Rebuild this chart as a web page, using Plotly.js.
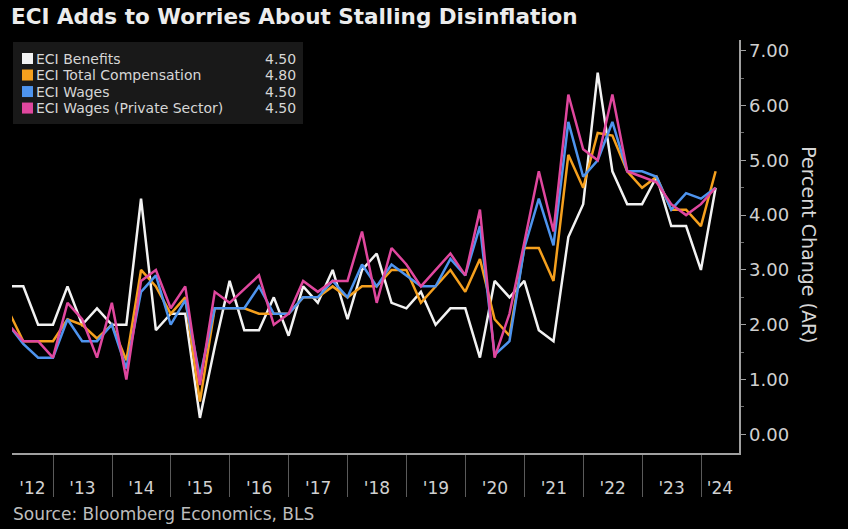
<!DOCTYPE html>
<html>
<head>
<meta charset="utf-8">
<script src="https://cdn.plot.ly/plotly-3.0.1.min.js"></script>
<style>
  html, body { margin: 0; padding: 0; background: #000; }
  #chart { width: 848px; height: 529px; }
</style>
</head>
<body>
<div id="chart"></div>
<script>
// ---- Data (quarterly, annualized % change) ----
const quarters = [
  '2012-03-31','2012-06-30','2012-09-30','2012-12-31',
  '2013-03-31','2013-06-30','2013-09-30','2013-12-31',
  '2014-03-31','2014-06-30','2014-09-30','2014-12-31',
  '2015-03-31','2015-06-30','2015-09-30','2015-12-31',
  '2016-03-31','2016-06-30','2016-09-30','2016-12-31',
  '2017-03-31','2017-06-30','2017-09-30','2017-12-31',
  '2018-03-31','2018-06-30','2018-09-30','2018-12-31',
  '2019-03-31','2019-06-30','2019-09-30','2019-12-31',
  '2020-03-31','2020-06-30','2020-09-30','2020-12-31',
  '2021-03-31','2021-06-30','2021-09-30','2021-12-31',
  '2022-03-31','2022-06-30','2022-09-30','2022-12-31',
  '2023-03-31','2023-06-30','2023-09-30','2023-12-31',
  '2024-03-31'
];

const eciBenefits = [2.7, 2.7, 2.0, 2.0, 2.7, 2.0, 2.3, 2.0, 2.0, 4.3, 1.9, 2.2, 2.2, 0.3, 1.6, 2.8, 1.9, 1.9, 2.5, 1.8, 2.7, 2.4, 3.0, 2.1, 3.0, 3.3, 2.4, 2.3, 2.6, 2.0, 2.3, 2.3, 1.4, 2.8, 2.5, 2.8, 1.9, 1.7, 3.6, 4.2, 6.6, 4.8, 4.2, 4.2, 4.7, 3.8, 3.8, 3.0, 4.5];
const eciTotalComp = [2.25, 1.7, 1.7, 1.7, 2.1, 2.0, 1.75, 2.0, 1.35, 3.0, 2.7, 2.2, 2.5, 0.6, 2.3, 2.3, 2.3, 2.2, 2.2, 2.2, 2.5, 2.5, 2.7, 2.5, 2.7, 2.7, 3.0, 3.0, 2.4, 2.7, 3.0, 2.6, 3.2, 2.1, 1.8, 3.4, 3.4, 2.8, 5.1, 4.5, 5.5, 5.45, 4.8, 4.5, 4.7, 4.1, 4.1, 3.8, 4.8];
const eciWages = [2.0, 1.65, 1.4, 1.4, 2.1, 1.7, 1.7, 2.0, 1.2, 2.6, 2.9, 2.0, 2.45, 1.05, 2.3, 2.3, 2.3, 2.7, 2.2, 2.2, 2.5, 2.5, 2.8, 2.5, 3.1, 2.7, 3.1, 2.9, 2.7, 2.7, 3.2, 2.9, 3.8, 1.45, 1.7, 3.4, 4.3, 3.45, 5.7, 4.7, 5.0, 5.7, 4.8, 4.8, 4.7, 4.1, 4.4, 4.3, 4.5];
const eciWagesPrivate = [2.0, 1.7, 1.7, 1.4, 2.4, 2.1, 1.4, 2.4, 1.0, 2.8, 3.0, 2.3, 2.7, 0.9, 2.6, 2.4, 2.65, 2.9, 2.0, 2.2, 2.8, 2.6, 2.8, 2.8, 3.7, 2.4, 3.4, 3.1, 2.7, 3.0, 3.3, 2.9, 4.1, 1.4, 2.2, 3.5, 4.8, 3.7, 6.2, 5.2, 5.0, 6.2, 4.8, 4.7, 4.6, 4.2, 4.0, 4.2, 4.5];

const seriesNames = ['ECI Benefits', 'ECI Total Compensation', 'ECI Wages', 'ECI Wages (Private Sector)'];
const seriesColors = ['#f2f2f2', '#f5a01e', '#4e94ee', '#e0479e'];
const seriesValues = [eciBenefits, eciTotalComp, eciWages, eciWagesPrivate];

const yearLabels = ["'12","'13","'14","'15","'16","'17","'18","'19","'20","'21","'22","'23","'24"];
const years = [2012,2013,2014,2015,2016,2017,2018,2019,2020,2021,2022,2023,2024];

// ---- Layout geometry ----
const W = 848, H = 529;
const M = { l: 12, r: 109, t: 40, b: 76.4 };
const plotW = W - M.l - M.r, plotH = H - M.t - M.b;
const px2x = px => (px - M.l) / plotW;
const px2y = py => (H - M.b - py) / plotH;

const xStart = '2012-04-21', xEnd = '2024-08-23';
const ms = s => new Date(s + 'T00:00:00Z').getTime();
const iso = t => new Date(t).toISOString().slice(0, 10);

// label positions: centre of the visible part of each year
const labelVals = years.map(y => {
  const a = Math.max(ms(y + '-01-01'), ms(xStart));
  const b = Math.min(ms((y + 1) + '-01-01'), ms(xEnd));
  return iso((a + b) / 2);
});
const boundaryVals = years.slice(1).map(y => y + '-01-01');

const font = 'DejaVu Sans, Verdana, sans-serif';

const traces = seriesValues.map((vals, i) => ({
  type: 'scatter', mode: 'lines',
  x: quarters, y: vals, name: seriesNames[i],
  line: { color: seriesColors[i], width: 2.5 },
  hoverinfo: 'skip', showlegend: false, cliponaxis: true
}));

// custom legend (box + swatches + names + latest values)
const shapes = [{
  type: 'rect', xref: 'paper', yref: 'paper',
  x0: px2x(13), x1: px2x(303), y0: px2y(124), y1: px2y(42),
  fillcolor: '#191919', line: { width: 0 }, layer: 'above'
}];
const annotations = [];
const rowY = [58.5, 75, 91.5, 108];
const legendFont = { family: font, size: 14, color: '#d6d6d6' };
seriesNames.forEach((n, i) => {
  shapes.push({
    type: 'rect', xref: 'paper', yref: 'paper',
    x0: px2x(22), x1: px2x(33), y0: px2y(rowY[i] + 5.5), y1: px2y(rowY[i] - 5.5),
    fillcolor: seriesColors[i], line: { width: 0 }, layer: 'above'
  });
  annotations.push({
    xref: 'paper', yref: 'paper', x: px2x(35), y: px2y(rowY[i]),
    xanchor: 'left', yanchor: 'middle', showarrow: false, text: n,
    font: legendFont, borderpad: 0
  });
  const v = seriesValues[i];
  annotations.push({
    xref: 'paper', yref: 'paper', x: px2x(297), y: px2y(rowY[i]),
    xanchor: 'right', yanchor: 'middle', showarrow: false, text: v[v.length - 1].toFixed(2),
    font: legendFont, borderpad: 0
  });
});
// y-axis title (reads top-to-bottom)
annotations.push({
  xref: 'paper', yref: 'paper', x: px2x(809), y: px2y(244),
  xanchor: 'center', yanchor: 'middle', showarrow: false, textangle: 90,
  text: 'Percent Change (AR)', font: { family: font, size: 19, color: '#d6d6d6' }
});
// source
annotations.push({
  xref: 'paper', yref: 'paper', x: px2x(11), y: px2y(514),
  xanchor: 'left', yanchor: 'middle', showarrow: false,
  text: 'Source: Bloomberg Economics, BLS', font: { family: font, size: 17, color: '#bdbdbd' }
});

const layout = {
  width: W, height: H,
  paper_bgcolor: '#000', plot_bgcolor: '#000',
  margin: M,
  showlegend: false,
  title: {
    text: '<b>ECI Adds to Worries About Stalling Disinflation</b>',
    x: 11 / W, xanchor: 'left', xref: 'container',
    y: 1 - 16 / H, yanchor: 'middle', yref: 'container',
    font: { family: font, size: 21.5, color: '#ececec' }
  },
  xaxis: {
    type: 'date', range: [xStart, xEnd],
    showgrid: false, zeroline: false,
    showline: true, linecolor: '#a0a0a0', linewidth: 1.5,
    tickmode: 'array', tickvals: labelVals, ticktext: yearLabels,
    ticks: 'outside', ticklen: 19, tickcolor: 'rgba(0,0,0,0)',
    tickfont: { family: font, size: 17, color: '#d0d0d0' },
    minor: {
      tickmode: 'array', tickvals: boundaryVals,
      ticks: 'outside', ticklen: 42, tickcolor: '#5a5a5a', tickwidth: 1, showgrid: false
    }
  },
  yaxis: {
    side: 'right', range: [-0.34, 7.195],
    showgrid: false, zeroline: false,
    showline: true, linecolor: '#a0a0a0', linewidth: 1.5,
    tickmode: 'linear', tick0: 0, dtick: 1, tickformat: '.2f',
    ticks: 'outside', ticklen: 5, tickcolor: '#a0a0a0',
    tickfont: { family: font, size: 18, color: '#d0d0d0' },
    minor: { dtick: 0.5, tick0: 0, ticks: 'outside', ticklen: 3, tickcolor: '#707070', showgrid: false }
  },
  shapes: shapes,
  annotations: annotations
};

Plotly.newPlot('chart', traces, layout, { staticPlot: true, displayModeBar: false });
</script>
</body>
</html>
